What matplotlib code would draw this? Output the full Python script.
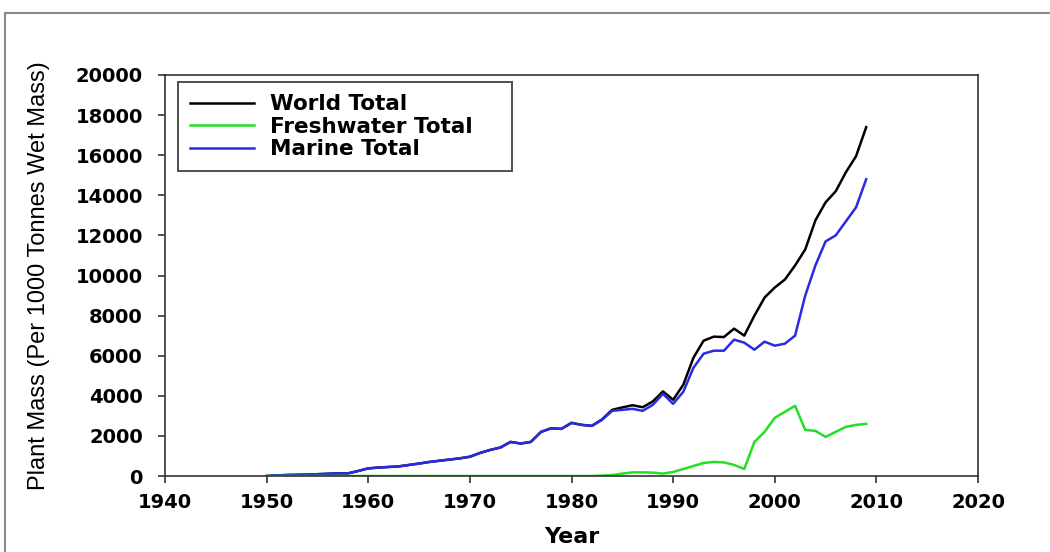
import matplotlib
matplotlib.use("Agg")
import matplotlib.pyplot as plt
from matplotlib.patches import Rectangle

# annual values (per 1000 tonnes wet mass)
years = list(range(1950, 2010))

marine = [0, 30, 50, 60, 70, 90, 110, 130, 130, 250,
          380, 420, 450, 480, 550, 620, 700, 760, 820, 880,
          960, 1150, 1300, 1420, 1700, 1620, 1700, 2200, 2380, 2350,
          2650, 2550, 2500, 2800, 3250, 3300, 3350, 3250, 3550, 4100,
          3600, 4200, 5400, 6100, 6250, 6250, 6800, 6650, 6300, 6700,
          6500, 6600, 7000, 9000, 10500, 11700, 12000, 12700, 13400, 14800]

freshwater = [0, 0, 0, 0, 0, 0, 0, 0, 0, 0,
              0, 0, 0, 0, 0, 0, 0, 0, 0, 0,
              0, 0, 0, 0, 0, 0, 0, 0, 0, 0,
              0, 0, 0, 20, 50, 120, 180, 180, 170, 120,
              200, 350, 500, 650, 700, 680, 550, 350, 1700, 2200,
              2900, 3200, 3500, 2300, 2250, 1950, 2200, 2450, 2550, 2600]

world = [0, 30, 50, 60, 70, 90, 110, 130, 130, 250,
         380, 420, 450, 480, 550, 620, 700, 760, 820, 880,
         960, 1150, 1300, 1420, 1700, 1620, 1700, 2200, 2380, 2350,
         2650, 2550, 2500, 2820, 3300, 3420, 3530, 3430, 3720, 4220,
         3800, 4550, 5900, 6750, 6950, 6930, 7350, 7000, 8000, 8900,
         9400, 9800, 10500, 11300, 12750, 13650, 14200, 15150, 15950, 17400]

xticks = list(range(1940, 2021, 10))
yticks = list(range(0, 20001, 2000))

tick_font = {"family": "DejaVu Sans", "weight": "bold", "size": 14}

fig = plt.figure(figsize=(10.5, 5.52), dpi=100)
ax = fig.add_axes([165 / 1050, 76 / 552, 813 / 1050, 401 / 552])

# outer grey frame of the original screenshot
fig.add_artist(Rectangle((5 / 1050, -0.1), 1.2, (552 - 13) / 552 + 0.1,
                         transform=fig.transFigure, fill=False,
                         edgecolor="#8a8a8a", linewidth=1.5))

l_world, = ax.plot(years, world, color="black", lw=1.8)
l_marine, = ax.plot(years, marine, color="#2a2ae0", lw=1.8)
l_fresh, = ax.plot(years, freshwater, color="#22e022", lw=1.8)

ax.set_xlim(1940, 2020)
ax.set_ylim(0, 20000)
ax.set_xticks(xticks)
ax.set_yticks(yticks)
ax.set_xticklabels([str(x) for x in xticks], fontdict=tick_font)
ax.set_yticklabels([str(y) for y in yticks], fontdict=tick_font)
ax.tick_params(direction="out", length=5, width=1.2, color="#333333",
               top=False, right=False)
ax.tick_params(axis="y", pad=11)
ax.tick_params(axis="x", pad=7)
for sp in ax.spines.values():
    sp.set_color("#333333")
    sp.set_linewidth(1.2)

ax.set_ylabel("Plant Mass (Per 1000 Tonnes Wet Mass)",
              fontfamily="Liberation Sans", fontsize=17)
ax.yaxis.set_label_coords(-0.141, 0.5)
ax.set_xlabel("Year", fontfamily="DejaVu Sans", fontweight="bold", fontsize=16)
ax.xaxis.set_label_coords(0.5, -0.128)

leg = ax.legend([l_world, l_fresh, l_marine],
                ["World Total", "Freshwater Total", "Marine Total"],
                loc="upper left", bbox_to_anchor=(0.016, 0.0, 0.411, 0.982),
                mode="expand", frameon=True, fancybox=False,
                prop={"family": "DejaVu Sans", "weight": "bold", "size": 15.5},
                handlelength=3.0, handletextpad=0.7, labelspacing=0.12,
                borderpad=0.55, borderaxespad=0)
leg.get_frame().set_edgecolor("#222222")
leg.get_frame().set_linewidth(1.4)

fig.savefig("out.png", dpi=100)
